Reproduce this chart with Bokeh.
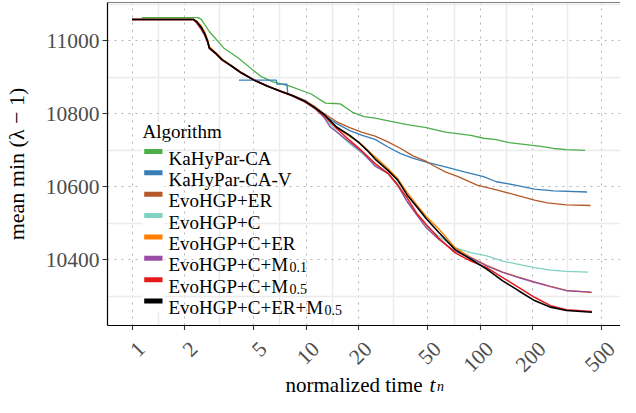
import math
from bokeh.plotting import figure
from bokeh.layouts import column
from bokeh.models import FixedTicker, Label, BoxAnnotation, Span, Range1d
from bokeh.embed import file_html
from bokeh.resources import INLINE

# ---------------- data ----------------
X_TICKS = [1, 2, 5, 10, 20, 50, 100, 200, 500]
X_TICK_LABELS = ["1", "2", "5", "10", "20", "50", "100", "200", "500"]
Y_TICKS = [10400, 10600, 10800, 11000]
Y_TICK_LABELS = ["10400", "10600", "10800", "11000"]
Y_MINOR = [10300, 10500, 10700, 10900, 11100]

ALGORITHMS = ["KaHyPar-CA", "KaHyPar-CA-V", "EvoHGP+ER", "EvoHGP+C",
              "EvoHGP+C+ER", "EvoHGP+C+M", "EvoHGP+C+M", "EvoHGP+C+ER+M"]
SUBSCRIPTS = ["", "", "", "", "", "0.1", "0.5", "0.5"]

kahypar_ca_t = [1.14, 2.40, 2.50, 2.78, 3.36, 4.06, 5.46, 6.45, 7.98, 10.7, 12.9, 14.7,
                15.7, 18.5, 21.5, 24.9, 30.7, 38.0, 49.0, 63.0, 88.3, 104.5, 123.7,
                146.5, 188.6, 223, 264, 313, 400]
kahypar_ca_v = [11063, 11063, 11058, 11025, 10980, 10953, 10903, 10887, 10876, 10854,
                10829, 10828, 10827, 10804, 10792, 10788, 10779, 10770, 10762, 10750,
                10741, 10733, 10729, 10721, 10715, 10711, 10705, 10702, 10700]

kahypar_ca_v_t = [4.11, 6.74, 6.8, 7.75, 7.85, 8.32, 9.85, 10.7, 12.7, 15.0, 17.8, 21.0,
                  24.9, 29.5, 34.9, 41.3, 49.0, 63.0, 81.1, 104.5, 123.7, 159, 205, 264, 411]
kahypar_ca_v_v = [10892, 10892, 10881, 10881, 10855, 10850, 10836, 10823, 10795, 10773,
                  10754, 10741, 10730, 10709, 10691, 10678, 10668, 10655, 10641, 10628,
                  10614, 10605, 10594, 10589, 10586]

evo_er_t = [1, 2.25, 2.35, 2.50, 2.61, 2.72, 2.78, 3.02, 3.29, 3.74, 4.24, 5.02, 5.94,
            7.03, 8.32, 9.85, 11.2, 12.7, 15.0, 17.8, 21.0, 24.9, 29.5, 34.9, 41.3, 49.0,
            53.3, 63.0, 74.6, 96, 124, 159, 205, 243, 313, 430]
evo_er_v = [11058, 11058, 11052, 11037, 11021, 10999, 10981, 10966, 10949, 10931, 10913,
            10893, 10877, 10863, 10851, 10836, 10820, 10800, 10778, 10762, 10749, 10739,
            10723, 10705, 10684, 10670, 10659, 10641, 10628, 10605, 10592, 10578, 10564,
            10556, 10551, 10549]

evo_c_t = [1, 2.25, 2.35, 2.50, 2.61, 2.72, 2.78, 3.02, 3.29, 3.74, 4.24, 5.02, 5.94,
           7.03, 8.32, 9.85, 11.2, 12.7, 15.0, 17.8, 21.0, 24.9, 29.5, 33.5, 38.0, 43.1,
           49.0, 57.9, 71.5, 88.3, 109, 134.6, 166, 205, 253.5, 313, 417]
evo_c_v = [11058, 11058, 11051, 11035, 11019, 10997, 10980, 10965, 10948, 10931, 10912,
           10892, 10876, 10862, 10850, 10833, 10815, 10793, 10750, 10718, 10691, 10659,
           10637, 10610, 10560, 10524, 10492, 10465, 10434, 10420, 10411, 10397, 10388,
           10379, 10372, 10369, 10367]

evo_c_er_t = [1, 2.25, 2.35, 2.50, 2.61, 2.72, 2.78, 3.02, 3.29, 3.74, 4.24, 5.02, 5.94,
              7.03, 8.32, 9.85, 11.2, 12.7, 15.0, 17.8, 20.2, 24.9, 29.5, 33.5, 38.0, 43.1,
              49.0, 57.9, 71.5, 88.3, 109, 134.6, 166, 205, 253.5, 313, 438]
evo_c_er_v = [11058, 11058, 11054, 11040, 11024, 11002, 10984, 10967, 10949, 10931, 10913,
              10893, 10877, 10863, 10850, 10834, 10817, 10797, 10762, 10738, 10722, 10682,
              10650, 10623, 10585, 10551, 10519, 10485, 10434, 10407, 10385, 10367, 10353,
              10340, 10328, 10317, 10311]

evo_c_m01_t = [1, 2.25, 2.35, 2.50, 2.61, 2.72, 2.78, 3.02, 3.29, 3.74, 4.24, 5.02, 5.94,
               7.03, 8.32, 9.85, 11.2, 12.7, 13.8, 15.0, 17.8, 21.0, 24.9, 29.5, 33.5,
               38.0, 43.1, 49.0, 57.9, 71.5, 88.3, 109, 134.6, 166, 205, 253.5, 313, 435]
evo_c_m01_v = [11058, 11058, 11048, 11030, 11015, 10994, 10978, 10964, 10947, 10930,
               10912, 10893, 10877, 10862, 10849, 10832, 10815, 10790, 10763, 10750,
               10722, 10695, 10657, 10637, 10605, 10560, 10524, 10488, 10456, 10424,
               10406, 10384, 10366, 10352, 10339, 10327, 10316, 10312]

evo_c_m05_t = [1, 2.25, 2.35, 2.50, 2.61, 2.72, 2.78, 3.02, 3.29, 3.74, 4.24, 5.02, 5.94,
               7.03, 8.32, 9.85, 11.2, 12.7, 15.0, 17.8, 20.2, 24.9, 29.5, 33.5, 38.0,
               43.1, 49.0, 57.9, 71.5, 88.3, 109, 134.6, 166, 205, 253.5, 313, 438]
evo_c_m05_v = [11058, 11058, 11050, 11034, 11018, 10996, 10980, 10964, 10947, 10930,
               10911, 10892, 10877, 10862, 10849, 10833, 10815, 10795, 10759, 10727,
               10705, 10664, 10637, 10605, 10570, 10528, 10497, 10459, 10420, 10397,
               10379, 10352, 10325, 10298, 10275, 10264, 10259]

evo_c_er_m05_t = [1, 2.25, 2.35, 2.50, 2.61, 2.72, 2.78, 3.02, 3.29, 3.74, 4.24, 5.02,
                  5.94, 7.03, 8.32, 9.85, 11.2, 12.7, 15.0, 17.8, 20.2, 22.4, 24.9, 29.5,
                  33.5, 38.0, 43.1, 49.0, 57.9, 71.5, 88.3, 109, 134.6, 166, 205, 253.5,
                  313, 438]
evo_c_er_m05_v = [11058, 11058, 11052, 11036, 11020, 10998, 10980, 10966, 10948, 10930,
                  10912, 10892, 10876, 10863, 10850, 10834, 10817, 10798, 10763, 10741,
                  10720, 10700, 10676, 10645, 10619, 10578, 10546, 10513, 10475, 10429,
                  10402, 10375, 10343, 10316, 10289, 10271, 10262, 10257]

SERIES_T = [kahypar_ca_t, kahypar_ca_v_t, evo_er_t, evo_c_t, evo_c_er_t,
            evo_c_m01_t, evo_c_m05_t, evo_c_er_m05_t]
SERIES_V = [kahypar_ca_v, kahypar_ca_v_v, evo_er_v, evo_c_v, evo_c_er_v,
            evo_c_m01_v, evo_c_m05_v, evo_c_er_m05_v]

# ---------------- styles / layout ----------------
COLORS = ["#4daf4a", "#377eb8", "#b5592a", "#80d2c2", "#ff7f00", "#984ea3", "#e41a1c", "#000000"]
WIDTHS = [1.3, 1.3, 1.3, 1.3, 1.4, 1.4, 1.5, 1.6]

X_START, X_END = 0.7231, 639.2          # panel x extent
Y_START, Y_END = 10220.8, 11104.3       # panel y extent

SERIF = "Liberation Serif"
FIG_W = 620
LEFT, TOP = 97, 2
PANEL_H = 323
AXIS_B = 5                              # room for the outward x ticks
H1 = TOP + PANEL_H + AXIS_B
H2 = 397 - H1                           # strip holding x tick labels and the title
TICK_FS = 21.5

# ================= main panel =================
p = figure(width=FIG_W, height=H1, x_axis_type="log",
           x_range=Range1d(X_START, X_END), y_range=Range1d(Y_START, Y_END),
           output_backend="svg", toolbar_location=None,
           min_border_left=LEFT, min_border_right=0, min_border_top=TOP,
           min_border_bottom=AXIS_B)
p.background_fill_color = "white"
p.border_fill_color = "white"
p.outline_line_color = None

x_minor = [math.sqrt(a * b) for a, b in zip(X_TICKS[:-1], X_TICKS[1:])]
p.xaxis.ticker = FixedTicker(ticks=X_TICKS, minor_ticks=x_minor)
p.yaxis.ticker = FixedTicker(ticks=Y_TICKS, minor_ticks=Y_MINOR)
p.xaxis.major_label_overrides = {t: "" for t in X_TICKS}
p.yaxis.major_label_overrides = {t: s for t, s in zip(Y_TICKS, Y_TICK_LABELS)}

for ax in (p.xaxis[0], p.yaxis[0]):
    ax.axis_line_color = "black"
    ax.axis_line_width = 1.2
    ax.major_tick_line_color = "#333333"
    ax.major_tick_line_width = 1.1
    ax.major_tick_out = 5
    ax.major_tick_in = 0
    ax.minor_tick_line_color = None
    ax.major_label_text_font = SERIF
    ax.major_label_text_font_size = "%spx" % TICK_FS
    ax.major_label_text_color = "#4d4d4d"
    ax.major_label_standoff = 3
p.xaxis.major_label_text_font_size = "0px"
p.xaxis.major_label_standoff = 0

p.yaxis.axis_label = "mean min (\u03bb \u2212 1)"
p.yaxis.axis_label_text_font = SERIF
p.yaxis.axis_label_text_font_style = "normal"
p.yaxis.axis_label_text_font_size = "22px"
p.yaxis.axis_label_text_color = "black"
p.yaxis.axis_label_standoff = 14

for g in (p.xgrid[0], p.ygrid[0]):
    g.grid_line_color = "#b3b3b3"
    g.grid_line_dash = "2 5"
    g.grid_line_width = 1
    g.minor_grid_line_color = "#ebebeb"
    g.minor_grid_line_width = 1.4

for ts, vs, c, w in zip(SERIES_T, SERIES_V, COLORS, WIDTHS):
    p.line(ts, vs, line_color=c, line_width=w)

# top border of the panel
p.add_layout(Span(location=Y_END, dimension="width", line_color="black", line_width=1.2))

# ---------------- legend (frame-relative pixels) ----------------
LEG_FS = 19
p.add_layout(Label(x=35, y=PANEL_H - 129, x_units="screen", y_units="screen", text="Algorithm",
                   text_font=SERIF, text_font_size="19px", text_baseline="alphabetic",
                   text_align="left", text_color="black"))
p.add_layout(BoxAnnotation(left=35, right=57, bottom=PANEL_H - 309, top=PANEL_H - 138,
                           left_units="screen", right_units="screen", top_units="screen",
                           bottom_units="screen", fill_color="white", fill_alpha=1,
                           line_color=None))
main_widths = {"EvoHGP+C+M": 6.295, "EvoHGP+C+ER+M": 8.137}
for i, (name, sub, c) in enumerate(zip(ALGORITHMS, SUBSCRIPTS, COLORS)):
    yc = PANEL_H - (149 + i * 21.36)
    p.add_layout(BoxAnnotation(left=36.7, right=55, bottom=yc - 2.5, top=yc + 2.5,
                               left_units="screen", right_units="screen", top_units="screen",
                               bottom_units="screen", fill_color=c, fill_alpha=1,
                               line_color=None))
    p.add_layout(Label(x=61, y=yc - 6.5, x_units="screen", y_units="screen", text=name,
                       text_font=SERIF, text_font_size="19px", text_baseline="alphabetic",
                       text_align="left", text_color="black"))
    if sub:
        sx = 61 + main_widths[name] * LEG_FS + 1.5
        p.add_layout(Label(x=sx, y=yc - 9, x_units="screen", y_units="screen", text=sub,
                           text_font=SERIF, text_font_size="14px",
                           text_baseline="alphabetic", text_align="left", text_color="black"))

# ================= strip under the panel: tick labels + x title =================
q = figure(width=FIG_W, height=H2, x_axis_type="log",
           x_range=p.x_range, y_range=Range1d(0, 1),
           output_backend="svg", toolbar_location=None,
           x_axis_location=None, y_axis_location=None,
           min_border_left=LEFT, min_border_right=0, min_border_top=0, min_border_bottom=0)
q.background_fill_color = "white"
q.border_fill_color = "white"
q.outline_line_color = None
q.grid.visible = False

# rotated x tick labels, anchored at the right end of their baseline,
# a little right of and below each tick (the top-right corner sits under the tick)
for t, s in zip(X_TICKS, X_TICK_LABELS):
    q.add_layout(Label(x=t, y=H2 - 15, x_offset=9.5, x_units="data", y_units="screen",
                       text=s, angle=math.pi / 4, text_align="right",
                       text_baseline="alphabetic", text_font=SERIF,
                       text_font_size="%spx" % TICK_FS, text_color="#4d4d4d"))

# x axis title: "normalized time t_n"
q.add_layout(Label(x=178, y=12.5, x_units="screen", y_units="screen",
                   text="normalized time", text_font=SERIF, text_font_size="21px",
                   text_baseline="alphabetic", text_align="left", text_color="black"))
q.add_layout(Label(x=322, y=12.5, x_units="screen", y_units="screen", text="t",
                   text_font=SERIF, text_font_size="21px", text_font_style="italic",
                   text_baseline="alphabetic", text_align="left", text_color="black"))
q.add_layout(Label(x=329.5, y=11, x_units="screen", y_units="screen", text="n",
                   text_font=SERIF, text_font_size="14px", text_font_style="italic",
                   text_baseline="alphabetic", text_align="left", text_color="black"))

layout = column(p, q, spacing=0)
open("out.html", "w").write(file_html(layout, INLINE))
